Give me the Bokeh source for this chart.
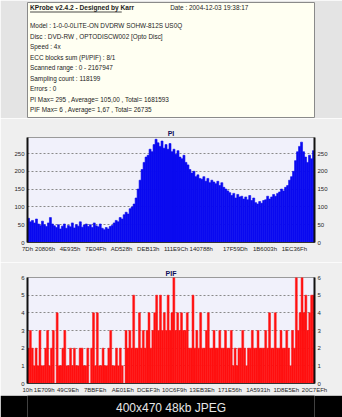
from bokeh.plotting import figure
from bokeh.layouts import column
from bokeh.models import Range1d, FixedTicker, LinearAxis, ColumnDataSource, AllLabels
from bokeh.core.properties import value
from bokeh.embed import file_html
from bokeh.resources import INLINE

# ---------------- data ----------------
HEADER = "KProbe v2.4.2 - Designed by Karr"
DATE = "Date : 2004-12-03 19:38:17"
INFO_LINES = [
    "Model : 1-0-0-0LITE-ON DVDRW SOHW-812S  US0Q",
    "Disc : DVD-RW , OPTODISCW002 [Opto Disc]",
    "Speed : 4x",
    "ECC blocks sum (PI/PIF) : 8/1",
    "Scanned range : 0 - 2167947",
    "Sampling count : 118199",
    "Errors : 0",
    "PI Max= 295 , Average= 105,00 , Total= 1681593",
    "PIF Max= 6 , Average= 1,67 , Total= 26735",
]
CAPTION = "400x470 48kb JPEG"

PI_START, PI_END = 0, 2167947
PIF_START, PIF_END = 16, 2148335

PI_TICK_LABELS = ["7Dh", "20806h", "4E935h", "7E04Fh", "AD528h", "DEB13h",
                  "111E9Ch", "140788h", "17F59Dh", "1B6003h", "1EC36Fh"]
PIF_TICK_LABELS = ["10h", "1E709h", "49C9Eh", "7BBFEh", "AE01Eh", "DCEF3h",
                   "10C6F9h", "13EB3Eh", "171E56h", "1A5931h", "1D8E5Eh", "20C7EFh"]
PI_Y_TICKS = [0, 50, 100, 150, 200, 250]
PIF_Y_TICKS = [0, 1, 2, 3, 4, 5, 6]

PI_VALUES = [
    68, 58, 62, 55, 66,
    52, 48, 60, 50, 45, 55,
    70, 52, 47,
    42, 50, 38, 46, 52, 40, 48,
    44, 55, 41, 50, 46, 58, 43, 49, 52, 45,
    50, 42, 55, 47, 44, 52, 40,
    36, 42, 38, 45, 48,
    55, 62, 58, 70, 66, 78,
    85, 80, 95, 100, 108,
    125, 150, 175,
    205, 225, 240, 245,
    262, 255, 275, 290, 280,
    270, 285, 265, 275, 262, 278,
    255, 262, 248, 258, 240,
    235, 245, 225, 218, 205,
    195, 200, 185, 190, 180,
    178, 185, 172, 180, 168, 175, 170,
    165, 172, 160, 168, 155, 150, 145,
    140, 132, 138, 125, 135, 128, 130, 122,
    128, 120, 132, 118, 125, 112, 108,
    115, 110, 118, 120, 130, 122,
    128, 135, 130, 138, 142, 150,
    145, 155, 160, 175, 185,
    200, 230, 255, 270,
    282, 255, 240, 225,
    245, 235, 258,
]

PIF_VALUES = [
    2, 3, 2, 1, 2, 1, 3, 1, 1, 2, 3, 1, 2, 3,
    0,
    4, 1, 1, 2, 3, 1, 1, 2, 1, 2, 1, 1, 2, 2, 1, 1, 2,
    0,
    2, 4, 1, 4, 1, 1, 2, 1, 1, 2, 3, 1, 1, 2, 1, 2, 1,
    0,
    3, 2, 3, 2, 5, 2, 2, 4, 2, 3, 2, 3, 4, 2, 3,
    4, 5, 3, 5, 3, 4, 3, 5, 3, 4, 6, 3, 4, 3, 4, 3,
    3, 4, 2, 2, 5, 2, 3, 2, 4, 2, 2, 3, 4, 2, 2, 3, 2, 2, 3, 2, 2, 3, 2, 2, 3,
    1, 2, 1, 2, 2, 3, 2, 1, 2, 2, 3, 2, 2, 3, 2, 2, 2, 3, 2, 4, 2, 2, 4, 2, 2, 3, 2, 2, 3, 2, 1, 3, 2,
    6, 3, 4, 6, 4, 5, 3, 4, 5, 5,
]

# ---------------- styles ----------------
FONT = "Liberation Sans"
TXT = "#1c1c1c"
PANEL_BG = "#efefef"
PLOT_BG = "#f1f1fb"
W = 342
TICK_FS = "6px"

# ---------------- info box ----------------
info = figure(width=W, height=118, output_backend="svg", toolbar_location=None,
              x_range=Range1d(2, 340), y_range=Range1d(117, 2),
              min_border_left=2, min_border_right=2, min_border_top=2, min_border_bottom=1)
info.axis.visible = False
info.grid.visible = False
info.background_fill_color = "#fffff2"
info.border_fill_color = "#e4e4e4"
info.outline_line_color = "#8a8a8a"
info.text(x=[5], y=[7], text=[HEADER], text_font=value(FONT), text_font_size="6.6px",
          text_font_style="bold", text_color=TXT, text_baseline="middle")
info.line(x=[5, 113], y=[11.5, 11.5], line_color=TXT, line_width=0.8)
info.text(x=[170], y=[7], text=[DATE], text_font=value(FONT), text_font_size="6.4px",
          text_color=TXT, text_baseline="middle")
line_y = [25 + k * 10.5 for k in range(len(INFO_LINES))]
info.text(x=[5] * len(INFO_LINES), y=line_y, text=INFO_LINES, text_font=value(FONT),
          text_font_size="6.4px", text_color=TXT, text_baseline="middle")


def style_chart(p, yticks, xticks, xlabels):
    p.background_fill_color = PLOT_BG
    p.border_fill_color = PANEL_BG
    p.outline_line_color = "#9a9a9a"
    p.title.align = "center"
    p.title.text_font = FONT
    p.title.text_font_size = "7px"
    p.title.text_font_style = "bold"
    p.title.text_color = "#10105a"
    p.title.standoff = 2
    p.xgrid.visible = False
    p.ygrid.ticker = FixedTicker(ticks=yticks[1:])
    p.ygrid.grid_line_color = "#8a8a8a"
    p.ygrid.grid_line_dash = "2 2"
    p.ygrid.grid_line_width = 1
    p.yaxis.ticker = FixedTicker(ticks=yticks)
    p.add_layout(LinearAxis(ticker=FixedTicker(ticks=yticks)), "right")
    for ax in p.yaxis:
        ax.axis_line_color = "#111111"
        ax.axis_line_width = 2
        ax.major_tick_line_color = None
        ax.minor_tick_line_color = None
        ax.major_tick_out = 0
        ax.major_tick_in = 0
        ax.major_label_standoff = 3
        ax.major_label_text_font = FONT
        ax.major_label_text_font_size = TICK_FS
        ax.major_label_text_color = "#262626"
    xa = p.xaxis[0]
    xa.ticker = FixedTicker(ticks=xticks)
    xa.major_label_overrides = {t: l for t, l in zip(xticks, xlabels)}
    xa.major_label_policy = AllLabels()
    xa.axis_line_color = "#333333"
    xa.major_tick_line_color = None
    xa.minor_tick_line_color = None
    xa.major_tick_out = 0
    xa.major_tick_in = 0
    xa.major_label_standoff = 3
    xa.major_label_text_font = FONT
    xa.major_label_text_font_size = TICK_FS
    xa.major_label_text_color = "#262626"


# ---------------- PI chart ----------------
pi = figure(width=W, height=144, output_backend="svg", toolbar_location=None, title="PI",
            x_range=Range1d(PI_START, PI_END), y_range=Range1d(0, 295),
            min_border_left=27, min_border_right=28, min_border_top=19, min_border_bottom=20)
pi_ticks = [int(s[:-1], 16) for s in PI_TICK_LABELS]
style_chart(pi, PI_Y_TICKS, pi_ticks, PI_TICK_LABELS)
n_pi = len(PI_VALUES)
pi_step = (PI_END - PI_START) / n_pi
pi_src = ColumnDataSource(dict(x=[PI_START + (i + 0.5) * pi_step for i in range(n_pi)], top=PI_VALUES))
pi.vbar(x="x", top="top", bottom=0, width=pi_step, source=pi_src,
        fill_color="#0a0af0", line_color="#0a0af0", line_width=0.6)

# ---------------- PIF chart ----------------
pif = figure(width=W, height=133, output_backend="svg", toolbar_location=None, title="PIF",
             x_range=Range1d(PIF_START, PIF_END), y_range=Range1d(0, 6),
             min_border_left=20, min_border_right=21, min_border_top=15, min_border_bottom=12)
pif_ticks = [int(s[:-1], 16) for s in PIF_TICK_LABELS]
style_chart(pif, PIF_Y_TICKS, pif_ticks, PIF_TICK_LABELS)
n_pif = len(PIF_VALUES)
pif_step = (PIF_END - PIF_START) / n_pif
pif_src = ColumnDataSource(dict(x=[PIF_START + (i + 0.5) * pif_step for i in range(n_pif)], top=PIF_VALUES))
pif.vbar(x="x", top="top", bottom=0, width=pif_step, source=pif_src,
         fill_color="#ff1010", line_color="#ff1010", line_width=0.5)

# ---------------- caption bar ----------------
cap = figure(width=W, height=22, output_backend="svg", toolbar_location=None,
             x_range=Range1d(0, W), y_range=Range1d(0, 22),
             min_border=0, min_border_left=0, min_border_right=0, min_border_top=0, min_border_bottom=0)
cap.axis.visible = False
cap.grid.visible = False
cap.background_fill_color = "#000000"
cap.border_fill_color = "#000000"
cap.outline_line_color = None
cap.text(x=[W / 2], y=[10], text=[CAPTION], text_font=value(FONT), text_font_size="12px",
         text_color="#e6e6e6", text_align="center", text_baseline="middle")

layout = column(info, pi, pif, cap, spacing=0)
open("out.html", "w").write(file_html(layout, INLINE))
